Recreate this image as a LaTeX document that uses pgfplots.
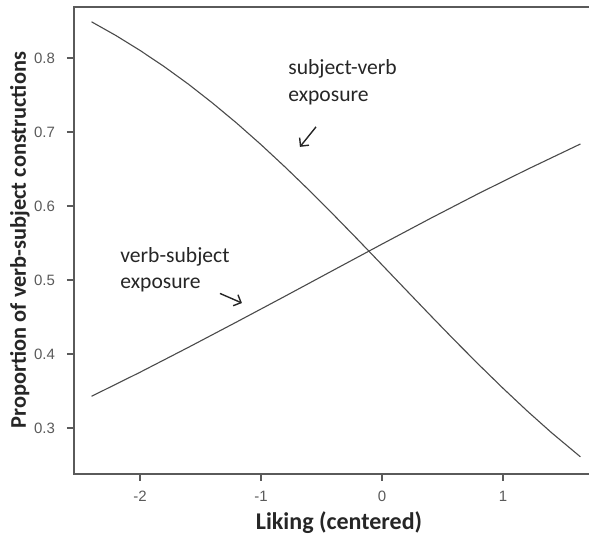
\documentclass[border=0pt]{standalone}
\usepackage{fontspec}
\setmainfont{Carlito}
\newfontfamily\arialf{Liberation Sans}
\usepackage{pgfplots}
\usetikzlibrary{arrows.meta}
\pgfplotsset{compat=1.18}
\definecolor{axgray}{HTML}{5A5A5A}
\definecolor{lngray}{HTML}{4A4A4A}
\definecolor{txt}{HTML}{262626}
\begin{document}
\begin{tikzpicture}
\useasboundingbox (0,0) rectangle (294.5pt,270pt);
\clip (0,0) rectangle (294.5pt,270pt);
\begin{axis}[
  at={(37pt,33pt)}, anchor=south west,
  scale only axis, width=265pt, height=233.5pt,
  xmin=-2.545, xmax=1.835, ymin=0.238, ymax=0.869,
  axis line style={axgray, line width=0.7pt},
  tick style={axgray, line width=0.7pt},
  tick align=outside, major tick length=3.5pt,
  xtick pos=left, ytick pos=left,
  xtick={-2,-1,0,1}, ytick={0.3,0.4,0.5,0.6,0.7,0.8},
  /pgf/number format/assume math mode=true,
  yticklabel style={/pgf/number format/fixed, /pgf/number format/precision=1, /pgf/number format/fixed zerofill},
  ticklabel style={font=\arialf\fontsize{7.5}{9}\selectfont, text=axgray},
  xticklabel style={yshift=-1.5pt},
  yticklabel style={xshift=-2.5pt},
  clip=false,
]
% decreasing: subject-verb exposure
\addplot[lngray, line width=0.55pt] coordinates {
(-2.4,0.849) (-2.2,0.8306) (-2.0,0.8104) (-1.8,0.7885) (-1.6,0.7648)
(-1.4,0.7392) (-1.2,0.7120) (-1.0,0.6831) (-0.8,0.6527) (-0.6,0.6211)
(-0.4,0.5883) (-0.2,0.5548) (0,0.5207) (0.2,0.4865) (0.4,0.4524)
(0.6,0.4187) (0.8,0.3858) (1.0,0.3539) (1.2,0.3232) (1.4,0.2940) (1.64,0.2612)
};
% increasing: verb-subject exposure
\addplot[lngray, line width=0.55pt] coordinates {
(-2.4,0.3430) (-2.0,0.3754) (-1.6,0.4091) (-1.2,0.4435) (-0.8,0.4783)
(-0.4,0.5135) (0,0.5486) (0.4,0.5833) (0.8,0.6171) (1.2,0.6495) (1.64,0.6839)
};
\node[anchor=west, align=left, inner sep=0pt, text=txt, font=\fontsize{10.8}{13.5}\selectfont] at (axis cs:-0.777,0.768) {subject-verb\\exposure};
\draw[-{Straight Barb[length=3pt,width=6pt]}, txt, line width=0.7pt] (axis cs:-0.545,0.707) -- (axis cs:-0.678,0.680);
\node[anchor=west, align=left, inner sep=0pt, text=txt, font=\fontsize{10.8}{13}\selectfont] at (axis cs:-2.165,0.5135) {verb-subject\\exposure};
\draw[-{Straight Barb[length=3pt,width=6pt]}, txt, line width=0.7pt] (axis cs:-1.339,0.482) -- (axis cs:-1.157,0.469);
\end{axis}
\node[text=txt, font=\bfseries\fontsize{12}{14}\selectfont] at (169.5pt,8.5pt) {Liking (centered)};
\node[rotate=90, text=txt, font=\bfseries\fontsize{11.2}{13}\selectfont] at (10pt,150pt) {Proportion of verb-subject constructions};
\end{tikzpicture}
\end{document}
